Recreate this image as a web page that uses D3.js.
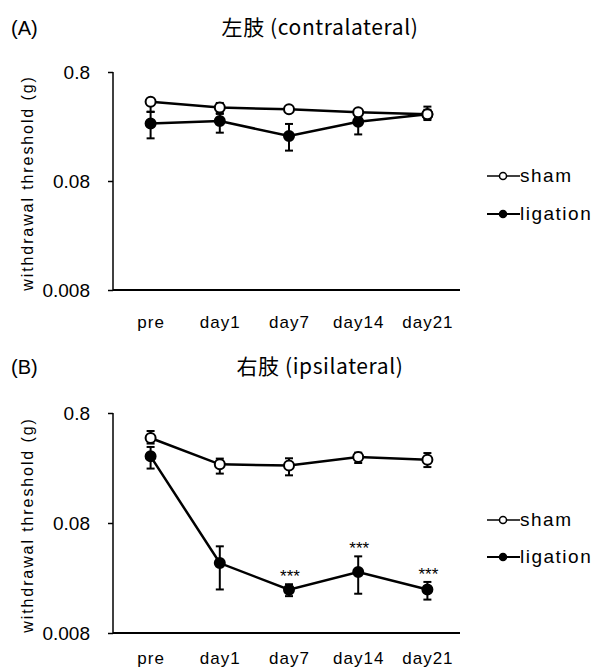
<!DOCTYPE html>
<html><head><meta charset="utf-8">
<script src="https://cdn.jsdelivr.net/npm/d3@7/dist/d3.min.js"></script>
<style>body{margin:0;background:#fff}svg{display:block}</style>
</head><body>
<svg id="c" width="600" height="671"></svg>
<script>
const categories = ["pre","day1","day7","day14","day21"];
const yTicks = [0.8, 0.08, 0.008];
const yTickLabels = ["0.8","0.08","0.008"];
const seriesNames = ["sham","ligation"];
// Panel A (contralateral)
const shamA = [0.427, 0.377, 0.364, 0.341, 0.327];
const shamA_lo = [0.344, 0.336, 0.353, 0.309, 0.30];
const shamA_hi = [0.45, 0.416, 0.375, 0.355, 0.36];
const ligA = [0.270, 0.284, 0.207, 0.280, 0.327];
const ligA_lo = [0.197, 0.222, 0.152, 0.214, 0.29];
const ligA_hi = [0.346, 0.330, 0.267, 0.336, 0.385];
// Panel B (ipsilateral)
const shamB = [0.474, 0.273, 0.267, 0.318, 0.301];
const shamB_lo = [0.422, 0.225, 0.217, 0.281, 0.258];
const shamB_hi = [0.549, 0.308, 0.31, 0.349, 0.346];
const ligB = [0.323, 0.0346, 0.0198, 0.0287, 0.0199];
const ligB_lo = [0.25, 0.0199, 0.0173, 0.0182, 0.0161];
const ligB_hi = [0.393, 0.0491, 0.0222, 0.0398, 0.0233];
const sigB = ["", "", "***", "***", "***"];

const svg = d3.select("#c");
const latin = "'Liberation Sans', Arial, sans-serif";
const cjk = "'Noto Sans CJK JP', 'Liberation Sans', sans-serif";

function panel(cfg){
  const g = svg.append("g");
  const x = d3.scalePoint().domain(categories).range([116, 462]).padding(0.5);
  const y = d3.scaleLog().domain([0.008, 0.8]).range([cfg.bottom, cfg.top]);
  g.append("text").attr("x", 11).attr("y", cfg.titleY).attr("font-family", latin)
    .attr("font-size", 20).text(cfg.tag);
  g.append("text").attr("x", 320).attr("y", cfg.titleY).attr("text-anchor","middle")
    .attr("font-family", cjk).attr("font-size", 21).attr("letter-spacing", 0.6).text(cfg.title);
  const ya = d3.axisLeft(y).tickValues(yTicks).tickFormat((d,i)=>yTickLabels[i]).tickSize(5).tickPadding(18);
  const yg = g.append("g").attr("transform","translate(113,0)").call(ya);
  yg.select(".domain").attr("d", `M0,${cfg.top}V${cfg.bottom}`).attr("stroke-width",1.5);
  yg.selectAll(".tick line").attr("stroke-width",1.5);
  yg.selectAll("text").attr("font-family", latin).attr("font-size", 19).attr("fill","#000");
  const xa = d3.axisBottom(x).tickSize(0).tickPadding(cfg.xPad);
  const xg = g.append("g").attr("transform",`translate(0,${cfg.bottom})`).call(xa);
  xg.select(".domain").attr("d","M113,0H460").attr("stroke-width",2);
  xg.selectAll("text").attr("font-family", latin).attr("font-size", 17).attr("letter-spacing", 1).attr("fill","#000");
  g.append("text").attr("transform",`translate(33,${(cfg.top+cfg.bottom)/2 + 2}) rotate(-90)`)
    .attr("text-anchor","middle").attr("font-family", latin).attr("font-size", 16)
    .attr("letter-spacing", 1.9).text("withdrawal threshold (g)");
  const series = [
    {v: cfg.sham, lo: cfg.shamLo, hi: cfg.shamHi, open: true},
    {v: cfg.lig, lo: cfg.ligLo, hi: cfg.ligHi, open: false}
  ];
  const line = d3.line().x((d,i)=>x(categories[i])).y(d=>y(d));
  [series[1], series[0]].forEach(s=>{
    const eg = g.append("g").attr("stroke","#000").attr("stroke-width",2);
    categories.forEach((c,i)=>{
      eg.append("line").attr("x1",x(c)).attr("x2",x(c)).attr("y1",y(s.lo[i])).attr("y2",y(s.hi[i]));
      eg.append("line").attr("x1",x(c)-4).attr("x2",x(c)+4).attr("y1",y(s.lo[i])).attr("y2",y(s.lo[i]));
      eg.append("line").attr("x1",x(c)-4).attr("x2",x(c)+4).attr("y1",y(s.hi[i])).attr("y2",y(s.hi[i]));
    });
    g.append("path").attr("d", line(s.v)).attr("fill","none").attr("stroke","#000").attr("stroke-width",2.5);
    g.selectAll(null).data(s.v).enter().append("circle")
      .attr("cx",(d,i)=>x(categories[i])).attr("cy",d=>y(d)).attr("r",5)
      .attr("fill", s.open ? "#fff" : "#000").attr("stroke","#000").attr("stroke-width",2);
  });
  if (cfg.sig) {
    cfg.sig.forEach((t,i)=>{
      if(!t) return;
      g.append("text").attr("x", x(categories[i]) + 1).attr("y", y(cfg.ligHi[i]) - 2)
        .attr("text-anchor","middle").attr("font-family", latin).attr("font-size", 17)
        .attr("letter-spacing",0).text(t);
    });
  }
  const lg = g.append("g");
  [0,1].forEach(k=>{
    const ly = cfg.legendY[k];
    lg.append("line").attr("x1",487).attr("x2",520).attr("y1",ly).attr("y2",ly)
      .attr("stroke","#000").attr("stroke-width",k===0?1.5:2);
    lg.append("circle").attr("cx",503).attr("cy",ly).attr("r",3.5)
      .attr("fill", k===0 ? "#fff" : "#000").attr("stroke","#000").attr("stroke-width",1.5);
    lg.append("text").attr("x",520).attr("y",ly+6).attr("font-family", latin).attr("font-size",19)
      .attr("letter-spacing",1.5).text(seriesNames[k]);
  });
}

panel({tag:"(A)", title:"左肢 (contralateral)", titleY:35, top:72, bottom:290, xPad:26,
  sham:shamA, shamLo:shamA_lo, shamHi:shamA_hi, lig:ligA, ligLo:ligA_lo, ligHi:ligA_hi,
  legendY:[176,214]});
panel({tag:"(B)", title:"右肢 (ipsilateral)", titleY:374, top:413, bottom:633, xPad:19,
  sham:shamB, shamLo:shamB_lo, shamHi:shamB_hi, lig:ligB, ligLo:ligB_lo, ligHi:ligB_hi,
  sig: sigB, legendY:[520,557]});
</script>
</body></html>
